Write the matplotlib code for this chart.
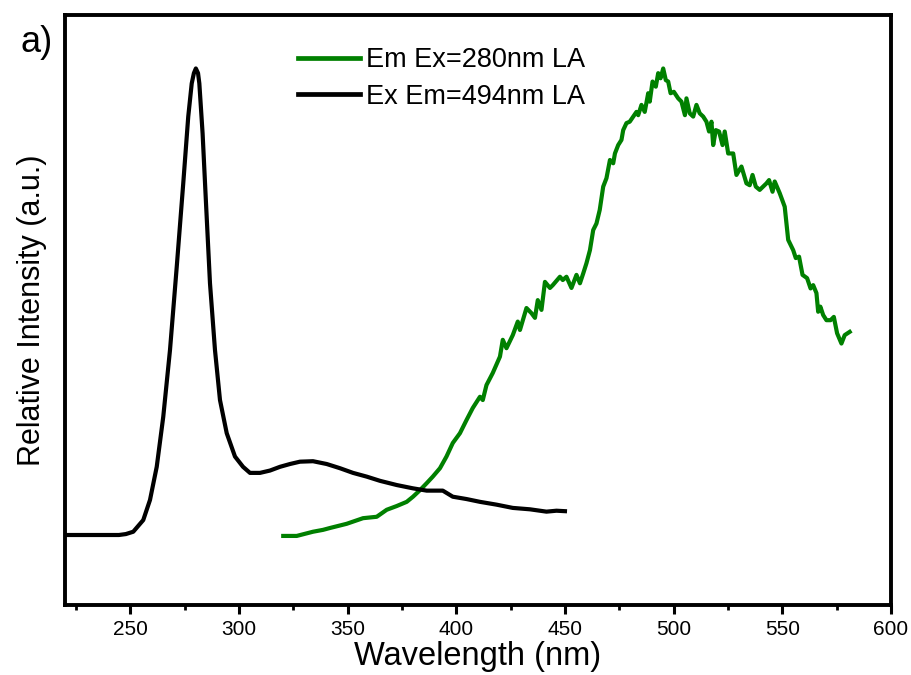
import matplotlib
matplotlib.use("Agg")
import matplotlib.pyplot as plt
from matplotlib.ticker import MultipleLocator, NullLocator

plt.rcParams['font.family'] = ['Liberation Sans', 'DejaVu Sans']

# Excitation spectrum (Em = 494 nm), black
ex_wl = [220, 244.8, 248.0, 251.4, 256.0, 259.1, 262.2, 265.2, 268.3, 271.4, 274.4, 276.7,
         278.3, 279.3, 280.2, 281.2, 281.8, 283.3, 284.8, 286.7, 289.0, 291.3, 294.4, 298.2,
         301.9, 305.1, 309.7, 314.3, 318.9, 323.5, 328.1, 334.1, 340.4, 346.5, 352.5, 358.8,
         364.9, 372.6, 380.0, 386.4, 391.0, 393.8, 398.4, 404.7, 410.9, 418.5, 426.0, 433.9,
         441.5, 446.1, 450.0]
ex_int = [0.0, 0.0, 0.002, 0.007, 0.032, 0.075, 0.146, 0.253, 0.396, 0.574, 0.753, 0.896,
          0.967, 0.989, 0.999, 0.989, 0.967, 0.860, 0.717, 0.539, 0.396, 0.289, 0.218, 0.168,
          0.146, 0.133, 0.133, 0.138, 0.146, 0.152, 0.157, 0.158, 0.152, 0.143, 0.133, 0.125,
          0.116, 0.107, 0.100, 0.095, 0.095, 0.095, 0.082, 0.077, 0.071, 0.065, 0.058, 0.055,
          0.050, 0.052, 0.051]

# Emission spectrum (Ex = 280 nm), green
em_wl = [320.4, 326.6, 334.1, 338.7, 341.9, 349.6, 357.1, 363.4, 368.0, 372.6, 377.2, 380.1,
         383.3, 386.4, 389.2, 392.5, 395.5, 398.4, 401.7, 404.7, 407.6, 410.9, 412.2, 413.9,
         416.8, 420.1, 421.4, 423.1, 426.0, 428.3, 429.3, 432.3, 434.6, 436.2, 437.5, 439.2,
         440.8, 443.1, 444.4, 447.7, 449.0, 450.7, 453.0, 455.3, 456.9, 458.4, 459.9, 461.5,
         463.0, 464.5, 466.0, 467.6, 469.1, 470.7, 472.2, 473.0, 474.5, 476.0, 476.8, 478.3,
         479.8, 481.4, 482.9, 483.7, 485.2, 486.7, 488.3, 489.0, 490.3, 491.8, 492.9, 494.0,
         495.2, 496.4, 497.5, 498.6, 500.1, 502.1, 503.6, 505.2, 505.9, 507.4, 509.0, 510.5,
         512.0, 513.6, 515.1, 516.3, 517.4, 518.2, 519.4, 520.9, 522.5, 523.5, 525.1, 527.4,
         528.9, 531.2, 533.5, 535.0, 536.3, 537.8, 539.6, 542.7, 543.9, 545.5, 546.5, 548.8,
         551.1, 552.7, 555.0, 556.2, 557.7, 559.3, 561.4, 563.0, 564.2, 565.7, 566.5, 567.5,
         568.8, 570.3, 572.2, 573.7, 575.2, 577.2, 578.7, 581.0]
em_int = [-0.002, -0.002, 0.007, 0.011, 0.015, 0.024, 0.036, 0.039, 0.054, 0.062, 0.071, 0.082,
          0.096, 0.111, 0.125, 0.143, 0.168, 0.197, 0.218, 0.246, 0.272, 0.296, 0.289, 0.321,
          0.347, 0.382, 0.418, 0.400, 0.428, 0.457, 0.439, 0.486, 0.475, 0.465, 0.503, 0.482,
          0.542, 0.529, 0.535, 0.553, 0.546, 0.553, 0.529, 0.557, 0.539, 0.560, 0.582, 0.610,
          0.653, 0.667, 0.696, 0.746, 0.764, 0.803, 0.796, 0.817, 0.835, 0.846, 0.867, 0.882,
          0.885, 0.896, 0.906, 0.899, 0.921, 0.906, 0.946, 0.928, 0.971, 0.960, 0.989, 0.978,
          0.999, 0.974, 0.971, 0.946, 0.949, 0.935, 0.928, 0.899, 0.935, 0.903, 0.896, 0.921,
          0.903, 0.896, 0.885, 0.864, 0.885, 0.835, 0.867, 0.864, 0.835, 0.864, 0.817, 0.817,
          0.771, 0.789, 0.753, 0.749, 0.771, 0.746, 0.739, 0.753, 0.760, 0.735, 0.757, 0.732,
          0.703, 0.632, 0.610, 0.593, 0.596, 0.557, 0.550, 0.528, 0.535, 0.518, 0.478, 0.489,
          0.471, 0.460, 0.460, 0.467, 0.432, 0.410, 0.428, 0.435]

labels = ["Em Ex=280nm LA", "Ex Em=494nm LA"]
colors = ["#008000", "#000000"]

fig = plt.figure(figsize=(9.11, 6.75), dpi=100)
ax = fig.add_axes([65/911, 70/675, 826/911, 590/675])

l1, = ax.plot(em_wl, em_int, color=colors[0], lw=3.0, label=labels[0], solid_joinstyle='round')
l2, = ax.plot(ex_wl, ex_int, color=colors[1], lw=3.0, label=labels[1], solid_joinstyle='round')

ax.set_xlim(220, 600)
ax.set_ylim(-0.1499, 1.1135)

ax.xaxis.set_major_locator(MultipleLocator(50))
ax.xaxis.set_minor_locator(MultipleLocator(25))
ax.yaxis.set_major_locator(NullLocator())
ax.tick_params(axis='x', which='major', direction='out', length=6.5, width=2.2, labelsize=15, pad=4.5)
ax.tick_params(axis='x', which='minor', direction='out', length=3.5, width=2.0)
for s in ax.spines.values():
    s.set_linewidth(2.8)

ax.set_xlabel("Wavelength (nm)", fontsize=23.5, labelpad=1)
ax.set_ylabel("Relative Intensity (a.u.)", fontsize=22, labelpad=13)

leg = ax.legend(handles=[l1, l2], labels=labels, frameon=False, fontsize=19.5,
                loc='upper left', bbox_to_anchor=(298/911, 1 - 47/675),
                bbox_transform=fig.transFigure, borderpad=0, borderaxespad=0,
                handlelength=2.3, handletextpad=0.22, labelspacing=0.4)
for h in leg.get_lines():
    h.set_linewidth(3.4)

fig.text(20/911, 1 - 42/675, "a)", fontsize=26, ha='left', va='center')

fig.savefig("out.png", dpi=100)
